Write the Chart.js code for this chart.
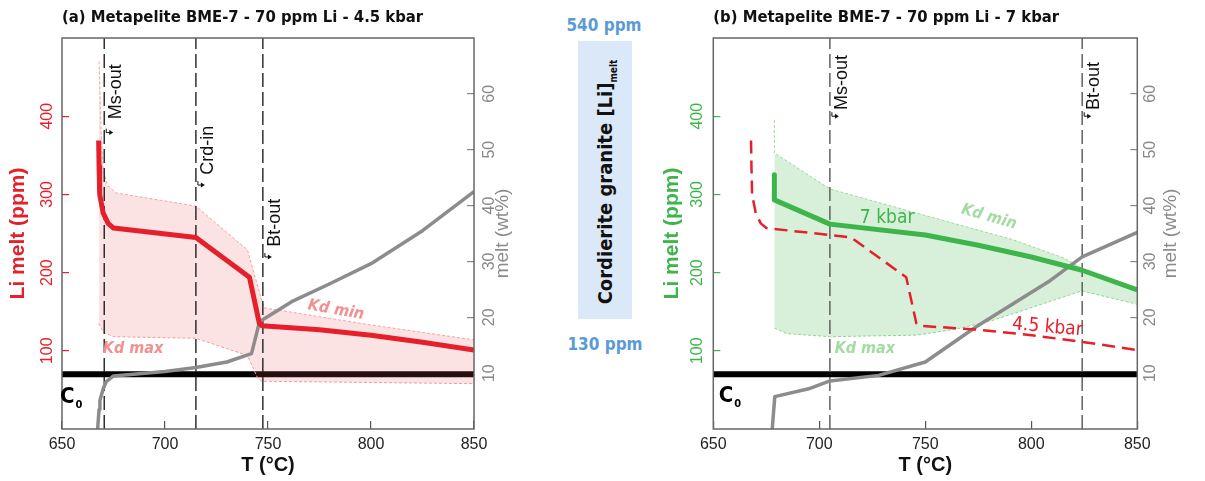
<!DOCTYPE html>
<html>
<head>
<meta charset="utf-8">
<script src="https://cdn.jsdelivr.net/npm/chart.js@4.4.1/dist/chart.umd.min.js"></script>
<style>
  html, body { margin: 0; padding: 0; background: #fff; }
  body { width: 1205px; height: 481px; position: relative; overflow: hidden; }
  #chartA { position: absolute; left: 0; top: 0; }
  #chartB { position: absolute; left: 655px; top: 0; }
  .ppm { position: absolute; width: 100px; text-align: center; color: #5b9bd5;
         font: bold 17px 'Liberation Sans Narrow', 'DejaVu Sans Condensed', sans-serif; }
  .crd-box { position: absolute; left: 578px; top: 41px; width: 54px; height: 278px; background: #dbe8f7; }
  .crd-box span { position: absolute; left: 50%; top: 50%; white-space: nowrap; color: #111;
         transform: translate(-50%, -50%) translateY(2px) rotate(-90deg);
         font: bold 20px 'Liberation Sans Narrow', 'DejaVu Sans Condensed', sans-serif; }
  .crd-box sub { font-size: 10px; vertical-align: baseline; position: relative; top: 5px; }
</style>
</head>
<body>
<canvas id="chartA" width="545" height="481"></canvas>
<div class="ppm" style="left:554px; top:15px;">540 ppm</div>
<div class="crd-box"><span>Cordierite granite [Li]<sub>melt</sub></span></div>
<div class="ppm" style="left:555px; top:334px;">130 ppm</div>
<canvas id="chartB" width="550" height="481"></canvas>
<script>
const NARROW = "'Liberation Sans Narrow', 'DejaVu Sans Condensed', sans-serif";
const SANS = "'Liberation Sans', Arial, sans-serif";
const RED = '#e5202a';
const GREEN = '#3db54a';

// axes
const tempTicks = [650, 700, 750, 800, 850];
const liTicks = [100, 200, 300, 400];
const meltTicks = [10, 20, 30, 40, 50, 60];

// bulk rock Li (C0)
const c0T = [650, 850];
const c0Li = [70, 70];

// (a) 4.5 kbar
const liT_a = [667.8, 668, 668.3, 670, 672.4, 675, 715, 741, 745.8, 747, 775, 800, 825, 850];
const li_a = [369, 336, 300, 276, 263, 257, 245, 194, 135, 132, 127, 120, 111, 101];
const kdMinT_a = [668, 669, 670, 672, 676, 715, 740, 748, 800, 850];
const kdMin_a = [470, 380, 332, 312, 302, 285, 229, 155, 133, 114];
const kdMaxT_a = [667.8, 670, 675, 715, 740, 745, 747, 850];
const kdMax_a = [135, 124, 118, 116, 94, 65, 61, 58];
const meltT_a = [667.3, 668, 668.4, 670, 671.5, 675, 700, 715, 730, 742, 745.8, 748, 761.5, 780, 800, 825, 850];
const melt_a = [0, 3.5, 5.1, 7.2, 8.5, 9.5, 10.3, 11, 12, 13.5, 19.1, 19.7, 22.8, 26, 29.6, 35.5, 42.5];
const phaseT_a = [670.5, 715, 747.5];
const phaseName_a = ['Ms-out', 'Crd-in', 'Bt-out'];

// (b) 7 kbar
const liT_b = [678.8, 678.8, 705, 750, 775, 800, 824, 850];
const li_b = [325, 293, 262, 248, 235, 220, 203, 178];
const kdMinT_b = [678.8, 678.8, 705, 750, 791.5, 816, 824, 850];
const kdMin_b = [395, 353, 307, 273, 242, 218, 205, 180];
const kdMaxT_b = [678.8, 684.6, 705, 746, 765, 782, 823.8, 850];
const kdMax_b = [129, 122, 118, 120, 128, 139, 176.5, 159.5];
const meltT_b = [677.8, 679, 695, 705, 728, 750, 774, 809, 824, 850];
const melt_b = [0, 5.8, 7.2, 8.6, 9.6, 12, 18.3, 26.6, 30.8, 35.2];
const phaseT_b = [705, 824];
const phaseName_b = ['Ms-out', 'Bt-out'];

function xy(xs, ys) {
    return xs.map((x, i) => ({ x: x, y: ys[i] }));
}

// frame, rotated notes, arrows and right axis title
const panelDecor = {
    id: 'panelDecor',
    afterDatasetsDraw(chart, args, opts) {
        const { ctx, chartArea: a, scales: { x, y } } = chart;
        ctx.save();
        ctx.strokeStyle = '#666';
        ctx.lineWidth = 1.5;
        ctx.strokeRect(a.left, a.top, a.right - a.left, a.bottom - a.top);

        opts.labels.forEach(l => {
            const px = x.getPixelForValue(l.x) + (l.dx || 0);
            const py = y.getPixelForValue(l.y);
            ctx.save();
            ctx.translate(px, py);
            ctx.rotate((l.rotate || 0) * Math.PI / 180);
            ctx.font = l.font;
            ctx.fillStyle = l.color;
            ctx.textAlign = l.align || 'center';
            ctx.textBaseline = 'middle';
            ctx.fillText(l.text, 0, 0);
            if (l.sub) {
                const w = ctx.measureText(l.text).width;
                ctx.font = l.subFont;
                ctx.textAlign = 'left';
                ctx.fillText(l.sub, w / 2 + 1, 8);
            }
            ctx.restore();
        });

        ctx.strokeStyle = '#111';
        ctx.fillStyle = '#111';
        ctx.lineWidth = 1;
        opts.arrows.forEach(ar => {
            const px = x.getPixelForValue(ar.x);
            const py = y.getPixelForValue(ar.y);
            ctx.beginPath();
            ctx.moveTo(px + 2, py - 4);
            ctx.lineTo(px + 2, py);
            ctx.lineTo(px + 6, py);
            ctx.stroke();
            ctx.beginPath();
            ctx.moveTo(px + 9, py);
            ctx.lineTo(px + 5, py - 2.5);
            ctx.lineTo(px + 5, py + 2.5);
            ctx.closePath();
            ctx.fill();
        });

        ctx.translate(a.right + opts.rightTitleDx, (a.top + a.bottom) / 2);
        ctx.rotate(-Math.PI / 2);
        ctx.font = '19px ' + SANS;
        ctx.fillStyle = '#8a8a8a';
        ctx.textAlign = 'center';
        ctx.textBaseline = 'middle';
        ctx.fillText('melt (wt%)', 0, 0);
        ctx.restore();
    }
};

function buildPanel(id, p) {
    const datasets = [
        { data: xy(p.liT, p.li), borderColor: p.color, borderWidth: 5, order: 1 }
    ];
    if (p.refT) {
        datasets.push({ data: xy(p.refT, p.ref), borderColor: RED, borderWidth: 2.5, borderDash: [13, 7], order: 2 });
    }
    datasets.push({ data: xy(p.meltT, p.melt), yAxisID: 'y2', borderColor: '#8c8c8c', borderWidth: 3.5, order: 3 });
    p.phaseT.forEach(t => {
        datasets.push({ data: xy([t, t], [0, 500]), borderColor: p.dashColor, borderWidth: 1.4, borderDash: [14, 5], order: 4 });
    });
    datasets.push({ data: xy(p.kdMinT, p.kdMin), borderColor: p.bandLine, borderWidth: 1, borderDash: [3, 2],
                    backgroundColor: p.bandFill, fill: '+1', order: 6 });
    datasets.push({ data: xy(p.kdMaxT, p.kdMax), borderColor: p.bandLine, borderWidth: 1, borderDash: [3, 2], order: 6 });
    datasets.push({ data: xy(c0T, c0Li), borderColor: '#000', borderWidth: 6, order: 7 });

    const labels = p.notes.slice();
    const arrows = [];
    p.phaseT.forEach((t, i) => {
        labels.push({ text: p.phaseName[i], x: t, y: p.phaseLabelY[i], dx: 12, rotate: -90, align: 'left',
                      color: '#111', font: '18px ' + SANS });
        arrows.push({ x: t, y: p.phaseArrowY[i] });
    });

    new Chart(document.getElementById(id), {
        type: 'line',
        data: { datasets: datasets },
        plugins: [panelDecor],
        options: {
            responsive: false,
            animation: false,
            devicePixelRatio: 1,
            elements: { point: { radius: 0 }, line: { tension: 0, borderJoinStyle: 'round', fill: false } },
            layout: { padding: 0 },
            plugins: {
                legend: { display: false },
                tooltip: { enabled: false },
                title: {
                    display: true, text: p.title, align: 'start', fullSize: false, color: '#111',
                    font: { family: NARROW, size: 16.5, weight: 'bold', lineHeight: 1.2 }, padding: { top: 8, bottom: 10.2 }
                },
                panelDecor: { labels: labels, arrows: arrows, rightTitleDx: p.rightTitleDx }
            },
            scales: {
                x: {
                    type: 'linear', min: 650, max: 850,
                    afterBuildTicks: s => { s.ticks = tempTicks.map(v => ({ value: v })); },
                    afterFit: s => { s.height = 52; },
                    border: { display: false },
                    grid: { drawOnChartArea: false, tickLength: -8, color: '#555', lineWidth: 1.2 },
                    ticks: { color: '#222', font: { family: SANS, size: 16 }, padding: 14, maxRotation: 0 },
                    title: { display: true, text: 'T (°C)', color: '#111', font: { family: SANS, size: 20, weight: 'bold' },
                             padding: { top: 0, bottom: 4 } }
                },
                y: {
                    type: 'linear', position: 'left', min: 0, max: 500,
                    afterBuildTicks: s => { s.ticks = liTicks.map(v => ({ value: v })); },
                    afterFit: s => { s.width = p.leftW; },
                    border: { display: false },
                    grid: { drawOnChartArea: false, tickLength: -7, color: p.color, lineWidth: 1.2 },
                    ticks: { color: p.color, font: { family: SANS, size: 16 }, minRotation: 90, maxRotation: 90,
                             crossAlign: 'center', padding: p.leftPad },
                    title: { display: true, text: 'Li melt (ppm)', color: p.color,
                             font: { family: SANS, size: 21, weight: 'bold' }, padding: { top: p.leftTitlePad, bottom: 0 } }
                },
                y2: {
                    type: 'linear', position: 'right', min: 0, max: 70,
                    afterBuildTicks: s => { s.ticks = meltTicks.map(v => ({ value: v })); },
                    afterFit: s => { s.width = p.rightW; },
                    border: { display: false },
                    grid: { drawOnChartArea: false, tickLength: -7, color: '#888', lineWidth: 1.2 },
                    ticks: { color: '#888', font: { family: SANS, size: 16 }, minRotation: 90, maxRotation: 90,
                             crossAlign: 'center', padding: p.rightPad }
                }
            }
        }
    });
}

buildPanel('chartA', {
    title: '(a) Metapelite BME-7 - 70 ppm Li - 4.5 kbar',
    color: RED, dashColor: '#222',
    liT: liT_a, li: li_a,
    kdMinT: kdMinT_a, kdMin: kdMin_a, kdMaxT: kdMaxT_a, kdMax: kdMax_a,
    bandFill: 'rgba(240, 90, 90, 0.17)', bandLine: '#f5a3a3',
    meltT: meltT_a, melt: melt_a,
    phaseT: phaseT_a, phaseName: phaseName_a,
    phaseLabelY: [396, 325, 233], phaseArrowY: [379, 312, 220],
    leftW: 62, rightW: 71, leftPad: 8, rightPad: 14, leftTitlePad: 6, rightTitleDx: 29,
    notes: [
        { text: 'Kd max', x: 684.5, y: 103, color: '#f29090', font: 'italic bold 16px ' + NARROW },
        { text: 'Kd min', x: 783, y: 152, rotate: 10, color: '#f29090', font: 'italic bold 16px ' + NARROW },
        { text: 'C', x: 652.5, y: 41, color: '#000', font: 'bold 22px ' + NARROW, sub: '0', subFont: 'bold 11px ' + NARROW }
    ]
});

buildPanel('chartB', {
    title: '(b) Metapelite BME-7 - 70 ppm Li - 7 kbar',
    color: GREEN, dashColor: '#555',
    liT: liT_b, li: li_b, refT: liT_a, ref: li_a,
    kdMinT: kdMinT_b, kdMin: kdMin_b, kdMaxT: kdMaxT_b, kdMax: kdMax_b,
    bandFill: 'rgba(60, 180, 70, 0.2)', bandLine: '#9ed89e',
    meltT: meltT_b, melt: melt_b,
    phaseT: phaseT_b, phaseName: phaseName_b,
    phaseLabelY: [408, 408], phaseArrowY: [400, 400],
    leftW: 58.3, rightW: 67.7, leftPad: 9.5, rightPad: 11, leftTitlePad: 5, rightTitleDx: 33,
    notes: [
        { text: '7 kbar', x: 732, y: 270, color: GREEN, font: '19px ' + NARROW },
        { text: 'Kd min', x: 780, y: 271, rotate: 16, color: '#a3dca3', font: 'italic bold 16px ' + NARROW },
        { text: 'Kd max', x: 721.5, y: 103, color: '#a3dca3', font: 'italic bold 16px ' + NARROW },
        { text: '4.5 kbar', x: 807.6, y: 130, rotate: 5, color: RED, font: '19px ' + NARROW },
        { text: 'C', x: 656, y: 42, color: '#000', font: 'bold 22px ' + NARROW, sub: '0', subFont: 'bold 11px ' + NARROW }
    ]
});
</script>
</body>
</html>
